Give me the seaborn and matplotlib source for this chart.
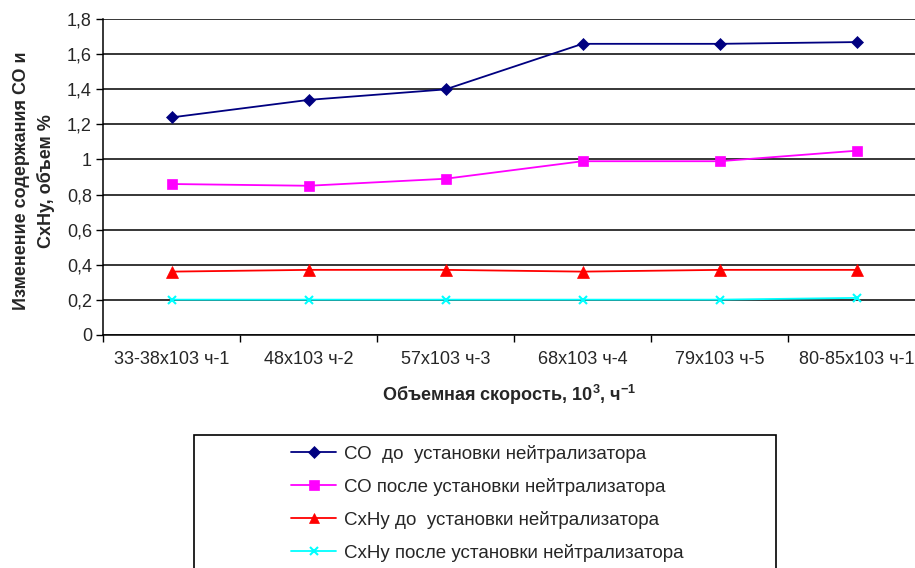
import numpy as np
import pandas as pd
import matplotlib
matplotlib.use("Agg")
import matplotlib.pyplot as plt
import seaborn as sns
from matplotlib.lines import Line2D
from matplotlib.patches import Rectangle

categories = ["33-38x103 ч-1", "48x103 ч-2", "57x103 ч-3", "68x103 ч-4", "79x103 ч-5", "80-85x103 ч-1"]
co_before = [1.24, 1.34, 1.40, 1.66, 1.66, 1.67]
co_after = [0.86, 0.85, 0.89, 0.99, 0.99, 1.05]
chy_before = [0.36, 0.37, 0.37, 0.36, 0.37, 0.37]
chy_after = [0.20, 0.20, 0.20, 0.20, 0.20, 0.21]
series_names = ["СО  до  установки нейтрализатора",
                "СО после установки нейтрализатора",
                "СхНу до  установки нейтрализатора",
                "СхНу после установки нейтрализатора"]
y_ticks = [0, 0.2, 0.4, 0.6, 0.8, 1.0, 1.2, 1.4, 1.6, 1.8]
y_tick_labels = ["0", "0,2", "0,4", "0,6", "0,8", "1", "1,2", "1,4", "1,6", "1,8"]

sns.set_style("white")
plt.rcParams['font.family'] = ['Liberation Sans', 'DejaVu Sans']
plt.rcParams['mathtext.fontset'] = 'custom'
plt.rcParams['mathtext.rm'] = 'Liberation Sans'
plt.rcParams['mathtext.bf'] = 'Liberation Sans:bold'

fig = plt.figure(figsize=(9.15, 5.68), dpi=100)
W, H = 915, 568
ax = fig.add_axes([103 / W, 1 - 334.7 / H, (925 - 103) / W, (334.7 - 19.3) / H])

styles = [
    dict(color="#000080", marker="D", ms=6.5, mec="#000080"),
    dict(color="#FF00FF", marker="s", ms=7, mec="#FF00FF"),
    dict(color="#FF0000", marker="^", ms=8, mec="#FF0000"),
    dict(color="#00FFFF", marker="x", ms=6, mec="#00FFFF", mew=1.5),
]
values = [co_before, co_after, chy_before, chy_after]
x = np.arange(len(categories))
for name, vals, st in zip(series_names, values, styles):
    df = pd.DataFrame({"x": x, "y": vals})
    sns.lineplot(data=df, x="x", y="y", ax=ax, color=st["color"], marker=st["marker"],
                 markersize=st["ms"], markeredgecolor=st["mec"],
                 markeredgewidth=st.get("mew", 0.5), linewidth=1.3, zorder=5)

FS = 13
ax.set_xlim(-0.5, len(categories) - 0.5)
ax.set_ylim(0, 1.8)
ax.set_yticks(y_ticks)
ax.set_yticklabels(y_tick_labels, fontsize=FS)
ax.set_xticks(np.arange(-0.5, len(categories), 1.0))
ax.set_xticklabels([])
ax.set_xticks(x, minor=True)
ax.set_xticklabels(categories, minor=True, fontsize=FS)
ax.tick_params(axis="x", which="major", direction="out", length=5, width=1, color="black", bottom=True)
ax.tick_params(axis="x", which="minor", length=0, pad=12)
ax.tick_params(axis="y", direction="out", length=5, width=1, color="black", left=True, pad=3)
ax.grid(axis="y", color="black", linewidth=1.1)
ax.set_axisbelow(True)
for s in ["top", "right"]:
    ax.spines[s].set_visible(False)
for s in ["left", "bottom"]:
    ax.spines[s].set_color("black")
    ax.spines[s].set_linewidth(1.1)

ax.set_xlabel("")
ax.set_ylabel("")
fig.text(509 / W, 1 - 395 / H, "Объемная скорость, 10$^{\\mathbf{3}}$, ч$^{\\mathbf{-1}}$",
         fontsize=FS, fontweight="bold", ha="center", va="center")
fig.text(34 / W, 1 - 181 / H, "Изменение содержания СО и\nСхНу, объем %", fontsize=FS,
         fontweight="bold", rotation=90, ha="center", va="center", linespacing=1.5,
         multialignment="center")

# legend frame
fig.patches.append(Rectangle((194 / W, 0 - 0.01), (776 - 194) / W, (1 - 435 / H) + 0.01,
                             transform=fig.transFigure, fill=False, edgecolor="black",
                             linewidth=1.2))
handles = [Line2D([0], [0], color=st["color"], marker=st["marker"], markersize=st["ms"] * 0.95,
                  markeredgecolor=st["mec"], markeredgewidth=st.get("mew", 0.5), linewidth=1.3)
           for st in styles]
fig.legend(handles, series_names, loc="upper left",
           bbox_to_anchor=(276 / W, 1 - 430 / H), frameon=False, fontsize=13.5,
           handlelength=2.4, handletextpad=0.4, labelspacing=0.8, borderpad=0.3)

fig.savefig("out.png", dpi=100)
